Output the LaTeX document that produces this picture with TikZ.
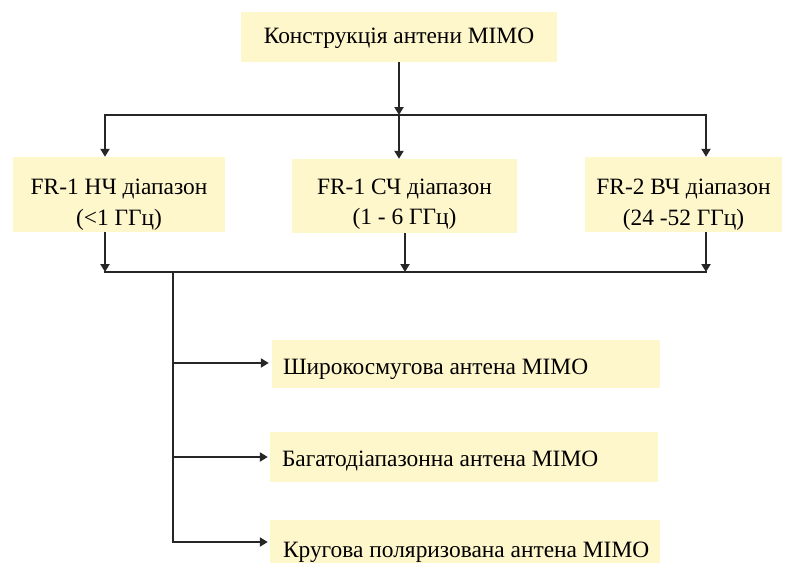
\documentclass[tikz,border=0pt]{standalone}
\usepackage{fontspec}
\setmainfont{Liberation Serif}
\usetikzlibrary{arrows.meta}
\definecolor{boxfill}{RGB}{255,247,204}
\definecolor{linecol}{RGB}{38,38,38}
\tikzset{
  box/.style={fill=boxfill, draw=none, inner sep=0pt},
  txt/.style={inner sep=0pt, font=\fontsize{23.4}{30.5}\selectfont},
  wire/.style={draw=linecol, line width=2.9pt},
  arr/.style={wire, -{Triangle[length=8pt,width=9pt]}}
}
\begin{document}
\begin{tikzpicture}[x=1pt,y=-1pt]
\useasboundingbox (0,0) rectangle (786,562);
\fill[white] (0,0) rectangle (786,562);

% top box
\node[box, minimum width=316pt, minimum height=50pt] (top) at (399,37) {};
\node[txt] (topt) at ([yshift=-1pt]top.center) {Конструкція антени MIMO};

% frequency range boxes
\node[box, minimum width=212pt, minimum height=75pt] (f1) at (119,194.5) {};
\node[box, minimum width=225pt, minimum height=74pt] (f2) at (404.5,196) {};
\node[box, minimum width=197pt, minimum height=75pt] (f3) at (683.5,194.5) {};
\node[txt, align=center] (f1t) at ([yshift=-10pt]f1.center) {FR-1 НЧ діапазон\\(<1 ГГц)};
\node[txt, align=center] (f2t) at ([yshift=-8pt]f2.center) {FR-1 СЧ діапазон\\(1 - 6 ГГц)};
\node[txt, align=center] (f3t) at ([yshift=-10pt]f3.center) {FR-2 ВЧ діапазон\\(24 -52 ГГц)};

% antenna type boxes
\node[box, minimum width=388pt, minimum height=48pt] (a1) at (466,364) {};
\node[box, minimum width=388pt, minimum height=50pt] (a2) at (464,457) {};
\node[box, minimum width=390pt, minimum height=60pt] (a3) at (465,550) {};
\node[txt, anchor=west] (a1t) at ([xshift=11pt,yshift=-5pt]a1.west) {Широкосмугова антена MIMO};
\node[txt, anchor=west] (a2t) at ([xshift=12pt,yshift=-4pt]a2.west) {Багатодіапазонна антена MIMO};
\node[txt, anchor=west] (a3t) at ([xshift=13pt,yshift=-2pt]a3.west) {Кругова поляризована антена MIMO};

% upper bus
\coordinate (uL) at (105,115);
\coordinate (uM) at (399,115);
\coordinate (uR) at (706,115);
\draw[arr] (top.south) -- (uM);
\draw[wire] ([xshift=-1.45pt]uL) -- ([xshift=1.45pt]uR);
\draw[arr] ([yshift=-1.45pt]uL) -- (uL |- f1.north);
\draw[arr] (uM) -- (uM |- f2.north);
\draw[arr] ([yshift=-1.45pt]uR) -- (uR |- f3.north);

% lower bus
\coordinate (lL) at (105,272);
\coordinate (lM) at (405,272);
\coordinate (lR) at (706,272);
\draw[arr] (lL |- f1.south) -- (lL);
\draw[arr] (lM |- f2.south) -- (lM);
\draw[arr] (lR |- f3.south) -- (lR);
\draw[wire] ([xshift=-1.45pt]lL) -- ([xshift=1.45pt]lR);

% trunk and branches
\coordinate (t0) at (173,272);
\coordinate (t1) at (173,363);
\coordinate (t2) at (173,457);
\coordinate (t3) at (173,542);
\draw[wire] (t0) -- ([yshift=1.45pt]t3);
\draw[arr, shorten >=3pt] (t1) -- (t1 -| a1.west);
\draw[arr, shorten >=2pt] (t2) -- (t2 -| a2.west);
\draw[arr, shorten >=2pt] ([xshift=-1.45pt]t3) -- (t3 -| a3.west);
\end{tikzpicture}
\end{document}
